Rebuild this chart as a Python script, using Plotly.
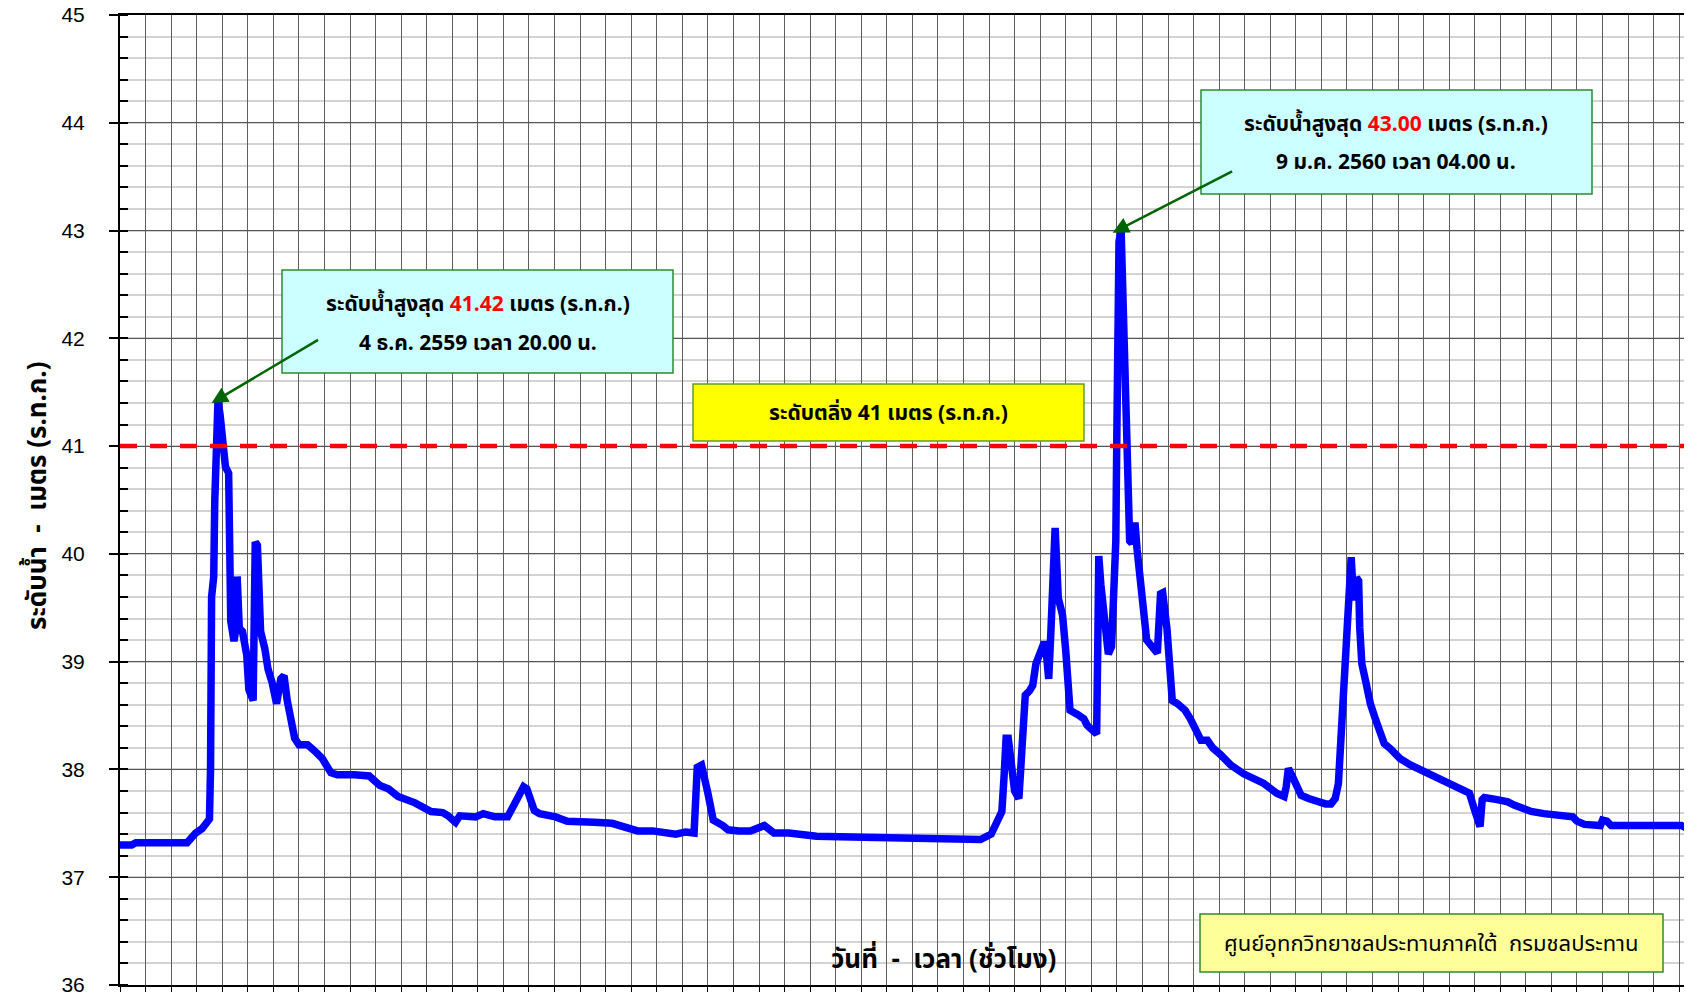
import plotly.graph_objects as go

# ---------------- data ----------------
times = [
    "2016-12-01 00:00", "2016-12-01 11:00", "2016-12-01 15:00", "2016-12-03 15:00", "2016-12-03 23:00",
    "2016-12-04 05:00", "2016-12-04 12:00", "2016-12-04 13:00", "2016-12-04 14:00", "2016-12-04 16:00",
    "2016-12-04 17:00", "2016-12-04 20:00", "2016-12-04 22:00", "2016-12-05 00:00", "2016-12-05 03:00",
    "2016-12-05 06:00", "2016-12-05 07:00", "2016-12-05 08:00", "2016-12-05 11:00", "2016-12-05 12:00",
    "2016-12-05 14:00", "2016-12-05 16:00", "2016-12-05 19:00", "2016-12-05 23:00", "2016-12-06 01:00",
    "2016-12-06 05:00", "2016-12-06 06:00", "2016-12-06 07:00", "2016-12-06 09:00", "2016-12-06 12:00",
    "2016-12-06 16:00", "2016-12-06 19:00", "2016-12-06 23:00", "2016-12-07 03:00", "2016-12-07 07:00",
    "2016-12-07 10:00", "2016-12-07 13:00", "2016-12-07 20:00", "2016-12-08 00:00", "2016-12-08 08:00",
    "2016-12-08 15:00", "2016-12-08 22:00", "2016-12-09 06:00", "2016-12-09 12:00", "2016-12-10 04:00",
    "2016-12-10 18:00", "2016-12-11 04:00", "2016-12-11 12:00", "2016-12-11 21:00", "2016-12-12 13:00",
    "2016-12-13 04:00", "2016-12-13 15:00", "2016-12-13 20:00", "2016-12-14 03:00", "2016-12-14 07:00",
    "2016-12-14 22:00", "2016-12-15 05:00", "2016-12-15 16:00", "2016-12-16 04:00", "2016-12-16 12:00",
    "2016-12-16 19:00", "2016-12-16 22:00", "2016-12-17 05:00", "2016-12-17 10:00", "2016-12-18 01:00",
    "2016-12-18 12:00", "2016-12-19 06:00", "2016-12-19 13:00", "2016-12-20 06:00", "2016-12-20 18:00",
    "2016-12-21 06:00", "2016-12-21 20:00", "2016-12-22 07:00", "2016-12-22 18:00", "2016-12-23 03:00",
    "2016-12-23 11:00", "2016-12-23 14:00", "2016-12-23 18:00", "2016-12-24 00:00", "2016-12-24 05:00",
    "2016-12-24 14:00", "2016-12-24 19:00", "2016-12-25 05:00", "2016-12-25 16:00", "2016-12-26 05:00",
    "2016-12-26 14:00", "2016-12-27 04:00", "2016-12-28 06:00", "2016-12-30 02:00", "2017-01-01 01:00",
    "2017-01-02 14:00", "2017-01-03 16:00", "2017-01-04 02:00", "2017-01-04 07:00", "2017-01-04 12:00",
    "2017-01-04 14:00", "2017-01-04 16:00", "2017-01-04 18:00", "2017-01-04 21:00", "2017-01-05 00:00",
    "2017-01-05 04:00", "2017-01-05 07:00", "2017-01-05 10:00", "2017-01-05 14:00", "2017-01-05 17:00",
    "2017-01-05 20:00", "2017-01-06 00:00", "2017-01-06 03:00", "2017-01-06 05:00", "2017-01-06 08:00",
    "2017-01-06 10:00", "2017-01-06 14:00", "2017-01-06 17:00", "2017-01-06 19:00", "2017-01-06 21:00",
    "2017-01-07 00:00", "2017-01-07 04:00", "2017-01-07 11:00", "2017-01-07 17:00", "2017-01-07 20:00",
    "2017-01-08 00:00", "2017-01-08 05:00", "2017-01-08 06:00", "2017-01-08 07:00", "2017-01-08 09:00",
    "2017-01-08 13:00", "2017-01-08 16:00", "2017-01-08 19:00", "2017-01-08 23:00", "2017-01-09 00:00",
    "2017-01-09 02:00", "2017-01-09 04:00", "2017-01-09 06:00", "2017-01-09 07:00", "2017-01-09 08:00",
    "2017-01-09 10:00", "2017-01-09 12:00", "2017-01-09 14:00", "2017-01-09 17:00", "2017-01-09 19:00",
    "2017-01-09 22:00", "2017-01-10 01:00", "2017-01-10 04:00", "2017-01-10 09:00", "2017-01-10 14:00",
    "2017-01-10 17:00", "2017-01-10 19:00", "2017-01-10 23:00", "2017-01-11 02:00", "2017-01-11 04:00",
    "2017-01-11 09:00", "2017-01-11 16:00", "2017-01-11 21:00", "2017-01-12 02:00", "2017-01-12 07:00",
    "2017-01-12 13:00", "2017-01-12 18:00", "2017-01-13 01:00", "2017-01-13 11:00", "2017-01-13 23:00",
    "2017-01-14 06:00", "2017-01-14 18:00", "2017-01-15 06:00", "2017-01-15 13:00", "2017-01-15 15:00",
    "2017-01-15 17:00", "2017-01-15 21:00", "2017-01-16 05:00", "2017-01-16 12:00", "2017-01-16 20:00",
    "2017-01-17 04:00", "2017-01-17 09:00", "2017-01-17 13:00", "2017-01-17 16:00", "2017-01-17 18:00",
    "2017-01-17 21:00", "2017-01-18 00:00", "2017-01-18 03:00", "2017-01-18 04:00", "2017-01-18 06:00",
    "2017-01-18 08:00", "2017-01-18 09:00", "2017-01-18 11:00", "2017-01-18 12:00", "2017-01-18 14:00",
    "2017-01-18 18:00", "2017-01-18 22:00", "2017-01-19 03:00", "2017-01-19 08:00", "2017-01-19 11:00",
    "2017-01-19 17:00", "2017-01-20 02:00", "2017-01-20 12:00", "2017-01-20 21:00", "2017-01-21 05:00",
    "2017-01-21 13:00", "2017-01-22 01:00", "2017-01-22 14:00", "2017-01-22 19:00", "2017-01-23 00:00",
    "2017-01-23 05:00", "2017-01-23 07:00", "2017-01-23 09:00", "2017-01-23 21:00", "2017-01-24 07:00",
    "2017-01-24 13:00", "2017-01-24 22:00", "2017-01-25 05:00", "2017-01-25 17:00", "2017-01-26 06:00",
    "2017-01-26 20:00", "2017-01-27 00:00", "2017-01-27 07:00", "2017-01-27 22:00", "2017-01-28 00:00",
    "2017-01-28 04:00", "2017-01-28 08:00", "2017-01-29 00:00", "2017-01-30 07:00", "2017-01-31 02:00",
    "2017-01-31 08:00", "2017-01-31 13:00", "2017-02-01 00:00",
]

levels = [
    37.30, 37.30, 37.32, 37.32, 37.41,
    37.45, 37.54, 38.00, 39.60, 39.79,
    40.50, 41.42, 41.29, 41.10, 40.81,
    40.75, 40.21, 39.38, 39.19, 39.25,
    39.79, 39.31, 39.28, 39.06, 38.74,
    38.64, 39.38, 40.11, 40.08, 39.28,
    39.12, 38.93, 38.80, 38.61, 38.84,
    38.87, 38.64, 38.29, 38.23, 38.23,
    38.17, 38.10, 37.97, 37.95, 37.95,
    37.94, 37.85, 37.82, 37.75, 37.69,
    37.61, 37.60, 37.57, 37.51, 37.57,
    37.56, 37.59, 37.56, 37.56, 37.70,
    37.84, 37.82, 37.62, 37.59, 37.56,
    37.52, 37.52, 37.51, 37.50, 37.46,
    37.43, 37.43, 37.41, 37.40, 37.42,
    37.41, 38.02, 38.04, 37.78, 37.53,
    37.48, 37.44, 37.43, 37.43, 37.48,
    37.41, 37.41, 37.38, 37.37, 37.36,
    37.35, 37.35, 37.40, 37.49, 37.61,
    37.92, 38.29, 38.29, 38.04, 37.80,
    37.73, 38.16, 38.69, 38.73, 38.78,
    38.98, 39.10, 39.16, 39.16, 38.84,
    39.27, 40.24, 39.59, 39.47, 39.43,
    39.10, 38.55, 38.51, 38.47, 38.41,
    38.37, 38.33, 39.10, 39.98, 39.71,
    39.27, 39.07, 39.14, 40.12, 41.14,
    42.90, 43.00, 42.30, 41.76, 41.14,
    40.41, 40.12, 40.10, 40.29, 40.04,
    39.71, 39.51, 39.20, 39.14, 39.08,
    39.63, 39.64, 39.31, 38.98, 38.64,
    38.61, 38.55, 38.47, 38.37, 38.27,
    38.27, 38.20, 38.14, 38.04, 37.96,
    37.93, 37.87, 37.78, 37.75, 37.84,
    38.01, 37.93, 37.76, 37.73, 37.70,
    37.68, 37.68, 37.73, 37.87, 38.21,
    38.70, 39.41, 39.94, 39.97, 39.60,
    39.60, 39.78, 39.75, 39.32, 38.98,
    38.80, 38.61, 38.46, 38.30, 38.24,
    38.19, 38.10, 38.04, 38.00, 37.95,
    37.93, 37.87, 37.82, 37.78, 37.62,
    37.47, 37.72, 37.74, 37.72, 37.70,
    37.67, 37.64, 37.61, 37.59, 37.58,
    37.56, 37.52, 37.49, 37.48, 37.53,
    37.52, 37.48, 37.48, 37.47, 37.48,
    37.45, 37.45, 37.45,
]

critical_level = 41.0
x_start, x_end = "2016-12-01 00:00", "2017-01-31 12:00"

THAI = "Tahoma, 'Noto Sans Thai', 'Leelawadee UI', 'Noto Sans', sans-serif"
# the page body has an 8 px default margin; the figure fills the rest
BODY = 8
W, H = 1692 - BODY, 992 - BODY
ML, MR, MT, MB = 112, 0, 7, 7
PW, PH = W - ML - MR, H - MT - MB
AX_L, AX_B = BODY + ML, BODY + H - MB   # absolute page pixels of plot edges


def px(x):
    return (x - AX_L) / PW


def py(y):
    return (AX_B - y) / PH


fig = go.Figure()
fig.add_trace(go.Scatter(
    x=times, y=levels, mode="lines",
    line=dict(color="#0000FF", width=7.5),
    hoverinfo="x+y", showlegend=False,
))

# critical level dashed line
fig.add_shape(type="line", xref="paper", x0=0, x1=1, yref="y",
              y0=critical_level, y1=critical_level,
              line=dict(color="#FF0000", width=4.5, dash="17px,13px"), layer="above")

# boxes (absolute page pixels)
boxes = [
    (282, 270, 673, 373, "#CCFFFF", "#2E8B2E"),
    (1201, 90, 1592, 194, "#CCFFFF", "#2E8B2E"),
    (693, 384, 1084, 441, "#FFFF00", "#669933"),
    (1200, 914, 1663, 972, "#FFFF99", "#2E8B2E"),
]
for x0, y0, x1, y1, fc, lc in boxes:
    fig.add_shape(type="rect", xref="paper", yref="paper",
                  x0=px(x0), x1=px(x1), y0=py(y1), y1=py(y0),
                  fillcolor=fc, line=dict(color=lc, width=1.5), layer="above")

texts = [
    (478, 304, "<b>ระดับน้ำสูงสุด <span style='color:#FF0000'>41.42</span> เมตร (ร.ท.ก.)</b>", 21),
    (478, 343, "<b>4 ธ.ค. 2559 เวลา 20.00 น.</b>", 21),
    (1396, 124, "<b>ระดับน้ำสูงสุด <span style='color:#FF0000'>43.00</span> เมตร (ร.ท.ก.)</b>", 21),
    (1396, 162, "<b>9 ม.ค. 2560 เวลา 04.00 น.</b>", 21),
    (888, 413, "<b>ระดับตลิ่ง 41 เมตร (ร.ท.ก.)</b>", 21),
    (1431, 944, "ศูนย์อุทกวิทยาชลประทานภาคใต้  กรมชลประทาน", 22),
    (943, 960, "<b>วันที่  -  เวลา (ชั่วโมง)</b>", 26),
]
for x, y, t, s in texts:
    fig.add_annotation(xref="paper", yref="paper", x=px(x), y=py(y), text=t,
                       showarrow=False, xanchor="center", yanchor="middle",
                       font=dict(family=THAI, size=s, color="#000000"))

# y title
fig.add_annotation(xref="paper", yref="paper", x=px(38), y=py(496),
                   text="<b>ระดับน้ำ  -  เมตร (ร.ท.ก.)</b>", textangle=-90,
                   showarrow=False, xanchor="center", yanchor="middle",
                   font=dict(family=THAI, size=26, color="#000000"))

# arrows
fig.add_annotation(x="2016-12-04 14:00", y=41.40, xref="x", yref="y", text="",
                   showarrow=True, ax=108, ay=-64, arrowhead=2, arrowsize=1.3,
                   arrowwidth=2.5, arrowcolor="#006400", standoff=0)
fig.add_annotation(x="2017-01-08 20:00", y=42.98, xref="x", yref="y", text="",
                   showarrow=True, ax=121, ay=-62, arrowhead=2, arrowsize=1.3,
                   arrowwidth=2.5, arrowcolor="#006400", standoff=0)

fig.update_xaxes(
    type="date", range=[x_start, x_end], dtick=86400000, tick0=x_start,
    showgrid=True, gridcolor="#5E5E5E", gridwidth=1.3,
    showticklabels=False, ticks="outside", ticklen=8, tickcolor="#000000",
    showline=True, linecolor="#000000", linewidth=2, mirror=True,
    zeroline=False, fixedrange=True, automargin=False,
)
fig.update_yaxes(
    range=[36, 45], dtick=1, tick0=36,
    showgrid=True, gridcolor="#555555", gridwidth=1.3,
    ticks="outside", ticklen=9, tickwidth=1.5, tickcolor="#000000",
    tickfont=dict(family="Liberation Sans, Arial, sans-serif", size=21, color="#000000"),
    ticklabelstandoff=20, ticklabeloverflow="allow",
    minor=dict(dtick=0.2, showgrid=True, gridcolor="#D3D3D3", gridwidth=1.5,
               ticks="inside", ticklen=8, tickcolor="#000000", tickwidth=1.5),
    showline=True, linecolor="#000000", linewidth=2,
    zeroline=False, fixedrange=True, automargin=False,
)
fig.update_layout(
    width=W, height=H,
    margin=dict(l=ML, r=MR, t=MT, b=MB, autoexpand=False),
    paper_bgcolor="#FFFFFF", plot_bgcolor="#FFFFFF",
    showlegend=False,
)
fig.write_html("out.html")
